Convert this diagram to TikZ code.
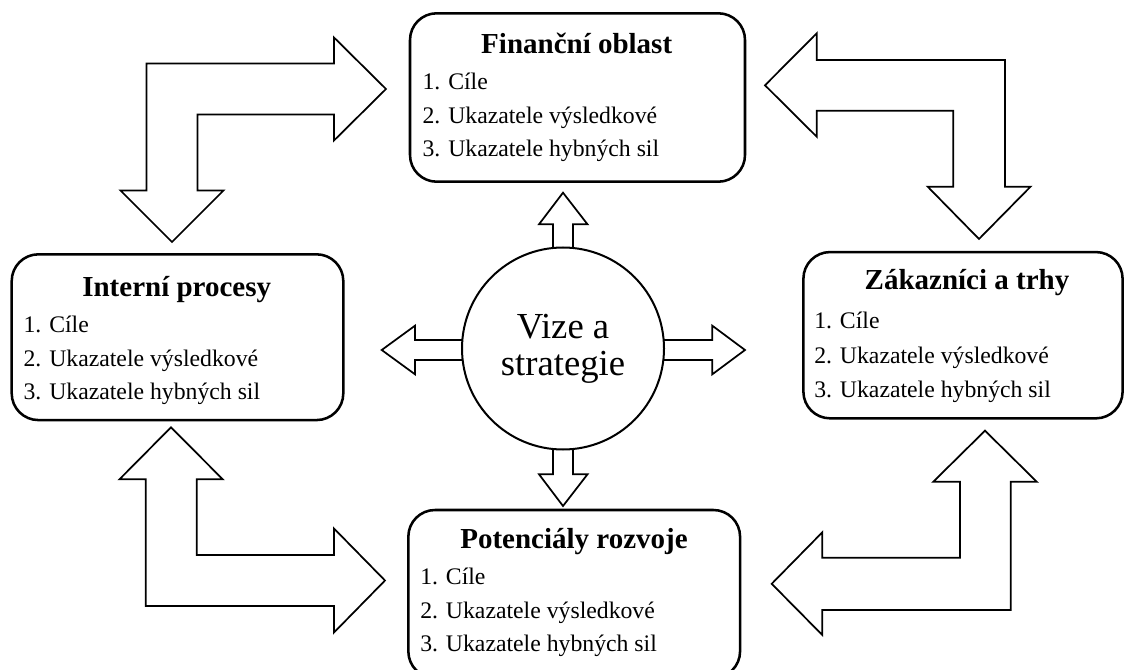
\documentclass[tikz,border=0pt]{standalone}
\usepackage{fontspec}
\setmainfont{Liberation Serif}
\begin{document}
\begin{tikzpicture}[x=0.75pt,y=-0.75pt,
  area/.style={draw=black, line width=1.9pt, rounded corners=20pt, fill=white,
    inner sep=0pt},
  heading/.style={anchor=base, font=\fontsize{21.75}{26}\selectfont\bfseries, inner sep=0pt},
  item/.style={anchor=base west, font=\fontsize{17.8}{21}\selectfont, inner sep=0pt},
  blockarrow/.style={draw=black, line width=1.3pt, fill=white, line join=miter},
  hub/.style={draw=black, line width=1.5pt, circle, fill=white, inner sep=0pt,
    minimum size=151.5pt, align=center,
    font=\fontsize{27.5}{27.8}\selectfont}]
\useasboundingbox (0,0) rectangle (1125,670);

% --- corner block arrows linking the four areas ---
\draw[blockarrow] (146.5,190.5) -- (146.5,63.5) -- (334,63.5) -- (334,37.5) -- (386,89)
  -- (334,140.5) -- (334,114.5) -- (197.5,114.5) -- (197.5,190.5) -- (223.5,190.5)
  -- (172,242) -- (120.5,190.5) -- cycle;
\draw[blockarrow] (1005,186.7) -- (1005,60) -- (816.7,60) -- (816.7,33.3) -- (765,85.3)
  -- (816.7,136.7) -- (816.7,110.7) -- (953.3,110.7) -- (953.3,186.7) -- (927.7,186.7)
  -- (979,239) -- (1030.5,186.7) -- cycle;
\draw[blockarrow] (145.7,479.3) -- (119.5,479.3) -- (171,427.3) -- (222.7,479.3)
  -- (196.7,479.3) -- (196.7,555) -- (334,555) -- (334,528.5) -- (385,580.5)
  -- (334,632.5) -- (334,606) -- (145.7,606) -- cycle;
\draw[blockarrow] (1010.7,481.7) -- (1036.7,481.7) -- (985,430.7) -- (933.3,481.7)
  -- (960,481.7) -- (960,557.7) -- (822.3,557.7) -- (822.3,532.3) -- (771.7,583.8)
  -- (822.3,635) -- (822.3,610) -- (1010.7,610) -- cycle;

% --- small arrows leaving the central circle ---
\draw[blockarrow] (553,349) -- (553,224.3) -- (539,224.3) -- (563,192.7) -- (587.5,224.3)
  -- (573,224.3) -- (573,349) -- cycle;
\draw[blockarrow] (553,349) -- (553,474.3) -- (539,474.3) -- (563,506) -- (587.5,474.3)
  -- (573,474.3) -- (573,349) -- cycle;
\draw[blockarrow] (563,340) -- (415,340) -- (415,325.7) -- (381.7,350) -- (415,374.3)
  -- (415,360) -- (563,360) -- cycle;
\draw[blockarrow] (563,340) -- (712.3,340) -- (712.3,325.7) -- (745,350) -- (712.3,374.3)
  -- (712.3,360) -- (563,360) -- cycle;

\node[hub] (vize) at (563,348.5) {Vize a\\strategie};

% --- the four areas ---
\node[area, minimum width=251.25pt, minimum height=126.3pt] (fin) at (577.5,97.5) {};
\node[area, minimum width=248.7pt, minimum height=124.3pt] (int) at (177.5,337.2) {};
\node[area, minimum width=239.4pt, minimum height=124.7pt] (zak) at (963,335.2) {};
\node[area, minimum width=248.8pt, minimum height=126pt] (pot) at (574.2,594) {};

\node[heading] (fint) at (576.7,53.3) {Finanční oblast};
\node[item] (fin1) at (422.3,90) {1. Cíle};
\node[item] (fin2) at (422.3,123.3) {2. Ukazatele výsledkové};
\node[item] (fin3) at (422.3,156.7) {3. Ukazatele hybných sil};

\node[heading] (intt) at (176.7,296.7) {Interní procesy};
\node[item] (int1) at (23.3,332.3) {1. Cíle};
\node[item] (int2) at (23.3,366.7) {2. Ukazatele výsledkové};
\node[item] (int3) at (23.3,399.3) {3. Ukazatele hybných sil};

\node[heading] (zakt) at (967,290) {Zákazníci a trhy};
\node[item] (zak1) at (814,328.3) {1. Cíle};
\node[item] (zak2) at (814,363.3) {2. Ukazatele výsledkové};
\node[item] (zak3) at (814,397.7) {3. Ukazatele hybných sil};

\node[heading] (pott) at (574,548.3) {Potenciály rozvoje};
\node[item] (pot1) at (420,584.3) {1. Cíle};
\node[item] (pot2) at (420,618.3) {2. Ukazatele výsledkové};
\node[item] (pot3) at (420,651.7) {3. Ukazatele hybných sil};
\end{tikzpicture}
\end{document}
